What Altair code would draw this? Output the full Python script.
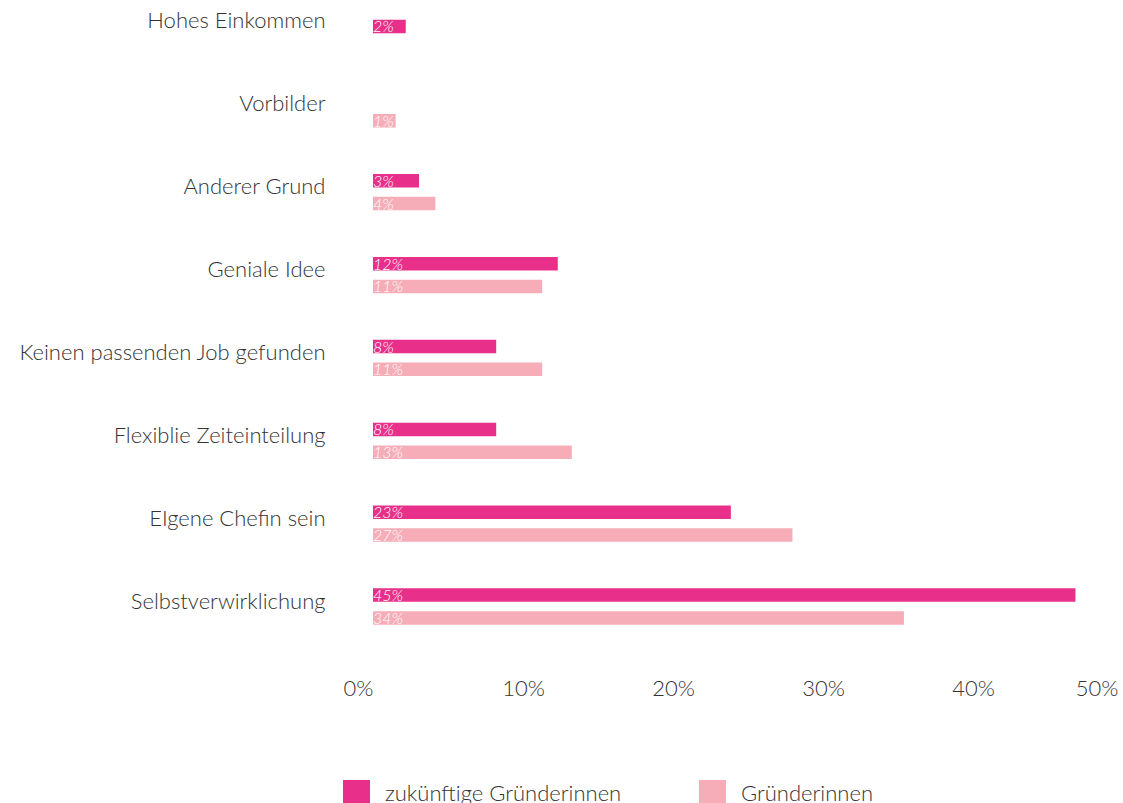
import altair as alt
import pandas as pd

FONT = "Lato"

categories = [
    "Hohes Einkommen",
    "Vorbilder",
    "Anderer Grund",
    "Geniale Idee",
    "Keinen passenden Job gefunden",
    "Flexiblie Zeiteinteilung",
    "EIgene Chefin sein",
    "Selbstverwirklichung",
]
future_founders = [2.1, None, 2.95, 11.85, 7.9, 7.9, 22.95, 45.05]
founders = [None, 1.45, 4.0, 10.85, 10.85, 12.75, 26.9, 34.05]
series_names = ["zukünftige Gründerinnen", "Gründerinnen"]
series_colors = ["#E8308A", "#F6ADB8"]
tick_values = [0, 10, 20, 30, 40, 50]

rows = []
for cat, fv, gv in zip(categories, future_founders, founders):
    present = [(series_names[0], fv, "top"), (series_names[1], gv, "bottom")]
    present = [p for p in present if p[1] is not None]
    for name, val, slot in present:
        if len(present) == 1 and slot == "top":
            slot = "mid"
        rows.append({"category": cat, "series": name, "value": val,
                     "slot": slot, "label": f"{round(val)}%"})
df = pd.DataFrame(rows)
ticks_df = pd.DataFrame({"t": tick_values})

bar_scale = alt.Scale(domain=[0, 48.1], nice=False, zero=True)

y_enc = alt.Y(
    "category:N", sort=categories, title=None,
    scale=alt.Scale(paddingInner=0.3604, paddingOuter=0),
    axis=alt.Axis(domain=False, ticks=False, labelFont=FONT, labelFontSize=22,
                  labelFontWeight=300, labelColor="#333333", labelPadding=48,
                  labelOffset=-5, labelLimit=400),
)
yoff_enc = alt.YOffset(
    "slot:N",
    scale=alt.Scale(domain=["top", "mid", "bottom"], paddingInner=0, paddingOuter=0.825),
)

bars = alt.Chart(df).mark_bar(height=13.5).encode(
    x=alt.X("value:Q", scale=bar_scale, axis=None),
    y=y_enc,
    yOffset=yoff_enc,
    color=alt.Color(
        "series:N",
        scale=alt.Scale(domain=series_names, range=series_colors),
        legend=alt.Legend(
            orient="none", legendX=-30, legendY=780, direction="horizontal",
            columns=2, title=None, symbolType="square", symbolSize=729,
            symbolStrokeWidth=0, symbolOpacity=1, labelFont=FONT,
            labelFontSize=22, labelFontWeight=300, labelColor="#333333",
            columnPadding=77, labelOffset=15, padding=0, labelLimit=400,
        ),
    ),
)

labels = alt.Chart(df).mark_text(
    align="left", baseline="middle", color="white", fontStyle="italic",
    fontSize=16, font=FONT, fontWeight=300, dx=0, dy=1,
).encode(
    x=alt.XDatum(0, scale=bar_scale, axis=None),
    y=y_enc,
    yOffset=yoff_enc,
    text="label:N",
)

axis_layer = alt.Chart(ticks_df).mark_point(opacity=0).encode(
    x=alt.X(
        "t:Q", title=None,
        scale=alt.Scale(domain=[0, 50], nice=False),
        axis=alt.Axis(
            orient="bottom", values=tick_values, labelExpr="datum.value + '%'",
            domain=False, ticks=False, grid=False, labelFont=FONT,
            labelFontSize=22, labelFontWeight=300, labelColor="#333333",
            labelPadding=45,
            labelAlign={"condition": {"test": "datum.value == 0 || datum.value == 50",
                                      "value": "right"}, "value": "center"},
            labelOffset={"condition": {"test": "datum.value == 50", "value": -5},
                         "value": 0},
        ),
    ),
)

chart = (
    alt.layer(bars, labels, axis_layer)
    .resolve_scale(x="independent")
    .properties(
        width=750, height=633,
        autosize=alt.AutoSizeParams(type="none"),
        padding={"left": 373, "top": 0, "right": 0, "bottom": 170},
    )
    .configure_view(stroke=None)
)

chart.save("out.html", embed_options={"renderer": "svg", "actions": False})
